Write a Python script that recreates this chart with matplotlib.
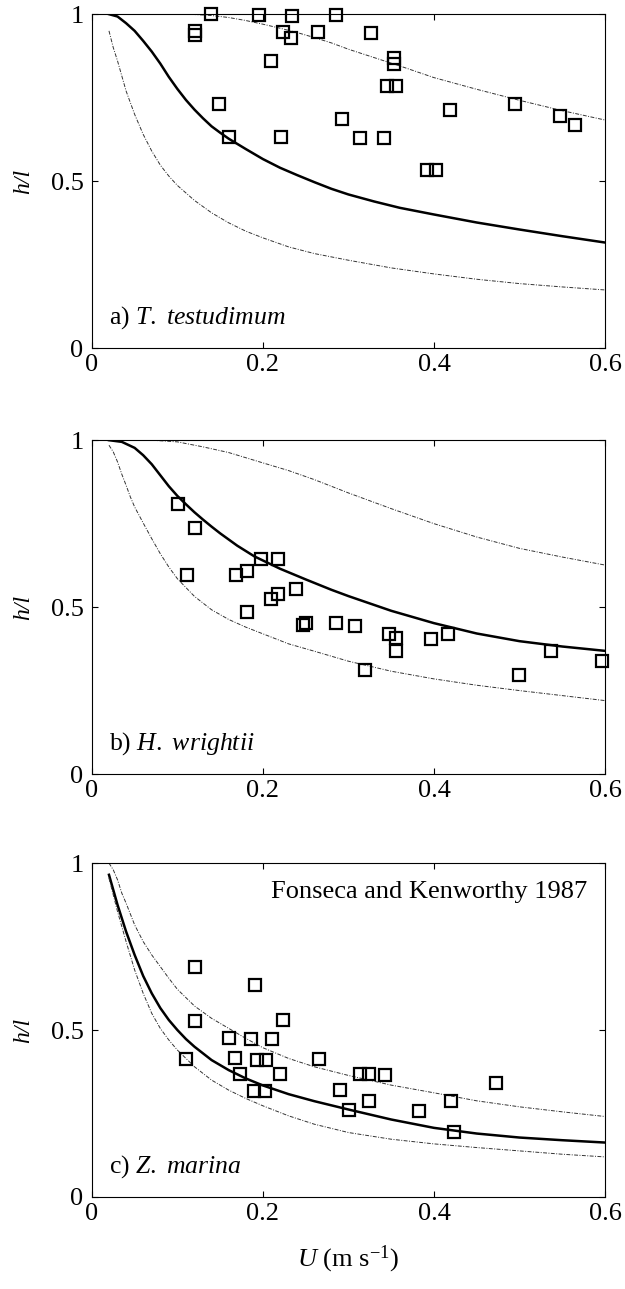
import matplotlib
matplotlib.use("Agg")
import matplotlib.pyplot as plt

plt.rcParams['font.family'] = ['Liberation Serif', 'DejaVu Serif']
plt.rcParams['mathtext.fontset'] = 'custom'
plt.rcParams['mathtext.rm'] = 'Liberation Serif'
plt.rcParams['mathtext.it'] = 'Liberation Serif:italic'

# ---- a) T. testudinum ----
a_pts_u = [0.139, 0.195, 0.234, 0.285, 0.121, 0.121, 0.224, 0.233, 0.264, 0.326,
           0.209, 0.353, 0.353, 0.345, 0.356, 0.149, 0.495, 0.419, 0.547, 0.565,
           0.293, 0.160, 0.221, 0.314, 0.342, 0.392, 0.402]
a_pts_h = [1.0, 0.997, 0.995, 0.997, 0.951, 0.937, 0.946, 0.929, 0.946, 0.943,
           0.859, 0.868, 0.852, 0.785, 0.785, 0.732, 0.732, 0.712, 0.695, 0.668,
           0.685, 0.632, 0.632, 0.629, 0.629, 0.532, 0.532]
a_mid_u = [0.02, 0.03, 0.04, 0.05, 0.06, 0.07, 0.08, 0.09, 0.10, 0.11, 0.12, 0.13,
           0.14, 0.15, 0.16, 0.18, 0.20, 0.22, 0.24, 0.26, 0.28, 0.30, 0.33, 0.36,
           0.40, 0.45, 0.50, 0.55, 0.60]
a_mid_h = [1.0, 0.993, 0.973, 0.95, 0.92, 0.888, 0.852, 0.812, 0.776, 0.743, 0.714,
           0.688, 0.664, 0.645, 0.627, 0.596, 0.566, 0.54, 0.518, 0.497, 0.477, 0.46,
           0.439, 0.42, 0.40, 0.376, 0.355, 0.335, 0.316]
a_hi_u = [0.09, 0.12, 0.14, 0.16, 0.18, 0.20, 0.22, 0.24, 0.26, 0.28, 0.30, 0.33,
          0.36, 0.40, 0.45, 0.50, 0.55, 0.60]
a_hi_h = [1.0, 0.999, 0.996, 0.99, 0.981, 0.97, 0.958, 0.945, 0.93, 0.914, 0.895,
          0.87, 0.845, 0.81, 0.775, 0.742, 0.711, 0.683]
a_lo_u = [0.02, 0.025, 0.03, 0.035, 0.04, 0.045, 0.05, 0.06, 0.07, 0.08, 0.09, 0.10,
          0.12, 0.14, 0.16, 0.18, 0.20, 0.23, 0.26, 0.30, 0.35, 0.40, 0.45, 0.50,
          0.55, 0.60]
a_lo_h = [0.95, 0.90, 0.86, 0.815, 0.77, 0.735, 0.70, 0.64, 0.59, 0.548, 0.515, 0.487,
          0.442, 0.405, 0.375, 0.35, 0.33, 0.303, 0.283, 0.263, 0.24, 0.222, 0.206,
          0.193, 0.183, 0.174]

# ---- b) H. wrightii ----
b_pts_u = [0.101, 0.121, 0.111, 0.169, 0.181, 0.198, 0.218, 0.239, 0.209, 0.218,
           0.181, 0.247, 0.250, 0.286, 0.308, 0.347, 0.356, 0.356, 0.397, 0.416,
           0.319, 0.499, 0.537, 0.597]
b_pts_h = [0.809, 0.737, 0.597, 0.595, 0.607, 0.644, 0.644, 0.553, 0.523, 0.538,
           0.484, 0.447, 0.452, 0.451, 0.443, 0.42, 0.408, 0.369, 0.406, 0.418,
           0.311, 0.298, 0.369, 0.338]
b_mid_u = [0.02, 0.035, 0.05, 0.06, 0.07, 0.08, 0.09, 0.10, 0.11, 0.12, 0.13, 0.14,
           0.15, 0.17, 0.19, 0.22, 0.25, 0.28, 0.30, 0.35, 0.40, 0.45, 0.50, 0.55,
           0.60]
b_mid_h = [1.0, 0.995, 0.977, 0.955, 0.928, 0.895, 0.862, 0.833, 0.808, 0.784, 0.762,
           0.741, 0.721, 0.684, 0.652, 0.615, 0.583, 0.552, 0.533, 0.489, 0.452,
           0.421, 0.398, 0.382, 0.369]
b_hi_u = [0.07, 0.10, 0.13, 0.16, 0.20, 0.23, 0.26, 0.30, 0.35, 0.40, 0.45, 0.50,
          0.55, 0.60]
b_hi_h = [1.0, 0.995, 0.98, 0.963, 0.932, 0.909, 0.882, 0.842, 0.795, 0.75, 0.71,
          0.676, 0.65, 0.626]
b_lo_u = [0.02, 0.025, 0.03, 0.035, 0.04, 0.045, 0.05, 0.06, 0.07, 0.08, 0.09, 0.10,
          0.12, 0.14, 0.16, 0.18, 0.20, 0.23, 0.26, 0.30, 0.35, 0.40, 0.45, 0.50,
          0.55, 0.60]
b_lo_h = [0.985, 0.965, 0.935, 0.898, 0.865, 0.83, 0.80, 0.752, 0.705, 0.66, 0.62,
          0.585, 0.532, 0.492, 0.463, 0.44, 0.42, 0.39, 0.368, 0.338, 0.308, 0.285,
          0.266, 0.25, 0.235, 0.22]

# ---- c) Z. marina ----
c_pts_u = [0.121, 0.191, 0.121, 0.223, 0.160, 0.186, 0.211, 0.110, 0.167, 0.193,
           0.204, 0.265, 0.173, 0.220, 0.313, 0.324, 0.343, 0.472, 0.190, 0.202,
           0.290, 0.324, 0.420, 0.301, 0.383, 0.424]
c_pts_h = [0.69, 0.634, 0.526, 0.529, 0.475, 0.473, 0.472, 0.414, 0.415, 0.411,
           0.411, 0.414, 0.368, 0.368, 0.368, 0.368, 0.366, 0.34, 0.317, 0.317,
           0.321, 0.287, 0.287, 0.26, 0.256, 0.194]
c_mid_u = [0.02, 0.025, 0.03, 0.035, 0.04, 0.05, 0.06, 0.07, 0.08, 0.09, 0.10, 0.11,
           0.12, 0.14, 0.16, 0.18, 0.20, 0.23, 0.26, 0.30, 0.35, 0.40, 0.45, 0.50,
           0.55, 0.60]
c_mid_h = [0.965, 0.92, 0.875, 0.835, 0.795, 0.725, 0.662, 0.61, 0.566, 0.53, 0.5,
           0.473, 0.45, 0.41, 0.38, 0.355, 0.334, 0.308, 0.287, 0.262, 0.232, 0.207,
           0.19, 0.178, 0.17, 0.163]
c_hi_u = [0.02, 0.025, 0.03, 0.035, 0.04, 0.05, 0.06, 0.07, 0.08, 0.09, 0.10, 0.12,
          0.14, 0.16, 0.18, 0.20, 0.23, 0.26, 0.30, 0.35, 0.40, 0.45, 0.50, 0.55, 0.60]
c_hi_h = [1.0, 0.98, 0.95, 0.91, 0.88, 0.815, 0.765, 0.725, 0.69, 0.655, 0.622, 0.572,
          0.535, 0.505, 0.475, 0.447, 0.415, 0.39, 0.364, 0.335, 0.312, 0.288, 0.27,
          0.255, 0.241]
c_lo_u = [0.02, 0.025, 0.03, 0.035, 0.04, 0.05, 0.06, 0.07, 0.08, 0.09, 0.10, 0.12,
          0.14, 0.16, 0.18, 0.20, 0.23, 0.26, 0.30, 0.35, 0.40, 0.45, 0.50, 0.55, 0.60]
c_lo_h = [0.955, 0.905, 0.855, 0.81, 0.765, 0.68, 0.61, 0.55, 0.505, 0.47, 0.44, 0.39,
          0.35, 0.32, 0.295, 0.273, 0.243, 0.218, 0.193, 0.173, 0.159, 0.148, 0.138,
          0.128, 0.12]

xticks = [0, 0.2, 0.4, 0.6]
xtick_labels = ['0', '0.2', '0.4', '0.6']
yticks = [0, 0.5, 1]
ytick_labels = ['0', '0.5', '1']

panel_labels = [r'a) $\mathit{T.\ testudimum}$',
                r'b) $\mathit{H.\ wrightii}$',
                r'c) $\mathit{Z.\ marina}$']

panels = [
    (a_pts_u, a_pts_h, a_mid_u, a_mid_h, a_hi_u, a_hi_h, a_lo_u, a_lo_h),
    (b_pts_u, b_pts_h, b_mid_u, b_mid_h, b_hi_u, b_hi_h, b_lo_u, b_lo_h),
    (c_pts_u, c_pts_h, c_mid_u, c_mid_h, c_hi_u, c_hi_h, c_lo_u, c_lo_h),
]

fig = plt.figure(figsize=(6.25, 12.89), dpi=100)
bottoms = [0.730, 0.3995, 0.0714]
dashdot = (0, (4, 1.5, 1, 1.5))

for i, (pu, ph, mu, mh, hu, hh, lu, lh) in enumerate(panels):
    ax = fig.add_axes([0.147, bottoms[i], 0.821, 0.259])
    ax.plot(mu, mh, color='black', lw=1.8, solid_joinstyle='round')
    ax.plot(hu, hh, color='#333333', lw=0.7, linestyle=dashdot)
    ax.plot(lu, lh, color='#333333', lw=0.7, linestyle=dashdot)
    ax.plot(pu, ph, 's', ms=8, mfc='none', mec='black', mew=1.6, clip_on=False)

    ax.set_xlim(0, 0.6)
    ax.set_ylim(0, 1)
    ax.set_xticks(xticks)
    ax.set_xticklabels(xtick_labels)
    ax.set_yticks(yticks)
    ax.set_yticklabels(ytick_labels)
    ax.tick_params(direction='in', top=True, right=True, length=4, width=0.8,
                   labelsize=19)
    ax.tick_params(axis='y', pad=6)
    ax.tick_params(axis='x', pad=4)
    for s in ax.spines.values():
        s.set_linewidth(0.8)
    ax.set_ylabel('h/l', style='italic', fontsize=17, labelpad=12)
    ax.text(0.02, 0.073, panel_labels[i], fontsize=18.5)

    if i == 2:
        ax.text(0.579, 0.914, 'Fonseca and Kenworthy 1987', fontsize=19,
                ha='right', va='center')
        ax.set_xlabel(r'$U$ (m s$^{-1}$)', fontsize=19, labelpad=14)

plt.savefig('out.png', dpi=100)
